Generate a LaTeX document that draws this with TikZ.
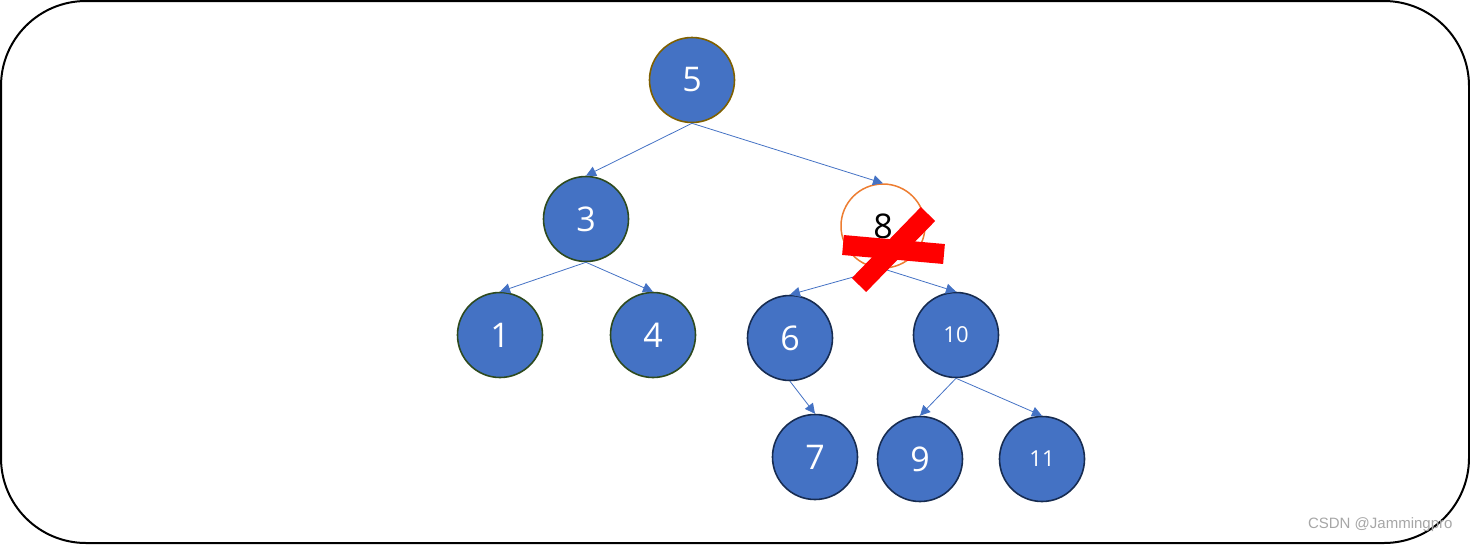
\documentclass[tikz,border=0pt]{standalone}
\usepackage{fontspec}
\setmainfont{Open Sans}
\newfontfamily\wmfont{Liberation Sans}
\usetikzlibrary{arrows.meta}
\definecolor{nodeblue}{HTML}{4472C4}
\definecolor{brownb}{HTML}{7F6000}
\definecolor{greenb}{HTML}{2E4A1E}
\definecolor{navyb}{HTML}{172C51}
\definecolor{orangeb}{HTML}{ED7D31}
\begin{document}
\begin{tikzpicture}[x=1pt,y=-1pt,
  tnode/.style={circle,fill=nodeblue,draw,line width=1.6pt,minimum size=85pt,inner sep=0pt,text=white,font=\fontsize{34}{34}\selectfont},
  smalltext/.style={font=\fontsize{22}{22}\selectfont},
  edge/.style={draw=nodeblue,line width=0.8pt,-{Triangle[width=10pt,length=10pt]}},
  xbar/.style={draw=red,line width=20pt}
]
\useasboundingbox (0,0) rectangle (1470,544);
\draw[line width=2pt,rounded corners=85pt] (1,1) rectangle (1469,543);

\node[tnode,draw=brownb] (n5) at (692,80) {5};
\node[tnode,draw=greenb] (n3) at (586,219) {3};
\node[circle,draw=orangeb,line width=1.5pt,fill=white,minimum size=84pt,inner sep=0pt,font=\fontsize{34}{34}\selectfont] (n8) at (883,226) {8};
\node[tnode,draw=greenb] (n1) at (500,335) {1};
\node[tnode,draw=greenb] (n4) at (653,335) {4};
\node[tnode,draw=navyb] (n6) at (790,338) {6};
\node[tnode,draw=navyb,smalltext] (n10) at (956,335) {10};
\node[tnode,draw=navyb] (n7) at (815,457) {7};
\node[tnode,draw=navyb] (n9) at (920,459) {9};
\node[tnode,draw=navyb,smalltext] (n11) at (1042,459) {11};

\draw[edge] (n5.south) -- (n3.north);
\draw[edge] (n5.south) -- (n8.north);
\draw[edge] (n3.south) -- (n1.north);
\draw[edge] (n3.south) -- (n4.north);
\draw[edge] (n8.south) -- (n6.north);
\draw[edge] (n8.south) -- (n10.north);
\draw[edge] (n6.south) -- (n7.north);
\draw[edge] (n10.south) -- (n9.north);
\draw[edge] (n10.south) -- (n11.north);

\coordinate (xa1) at (843,245);
\coordinate (xa2) at (944,254);
\coordinate (xb1) at (928,214);
\coordinate (xb2) at (859,285);
\draw[xbar] (xa1) -- (xa2);
\draw[xbar] (xb1) -- (xb2);

\node[text=gray!70,font=\wmfont\fontsize{15}{15}\selectfont,anchor=east] (wm) at (1456,525) {CSDN @Jammingpro};
\end{tikzpicture}
\end{document}
